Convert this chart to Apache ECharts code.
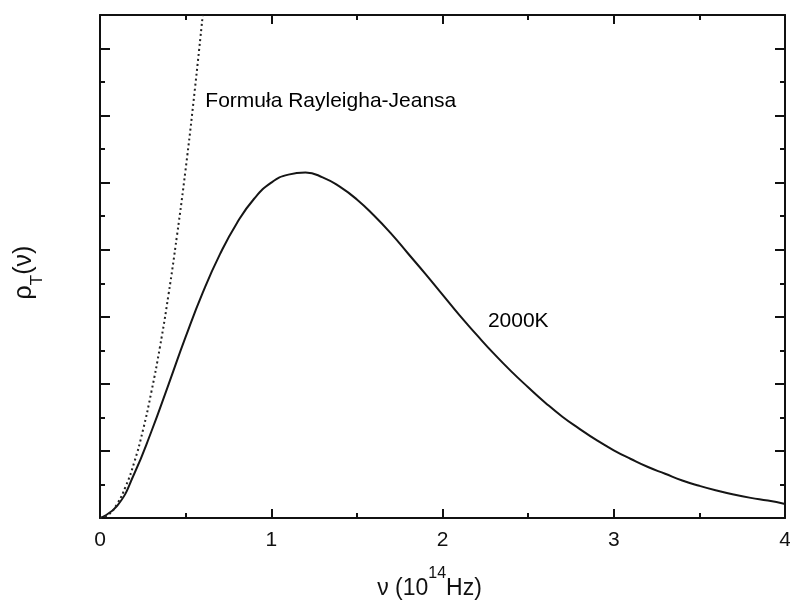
<!DOCTYPE html>
<html>
<head>
<meta charset="utf-8">
<script src="https://cdn.jsdelivr.net/npm/echarts@6/dist/echarts.min.js"></script>
<style>html,body{margin:0;padding:0;background:#fff;}#c{width:790px;height:604px;}</style>
</head>
<body>
<div id="c"></div>
<script>
// Frequency in 10^14 Hz
var planckX = [0,0.1,0.2,0.3,0.4,0.5,0.6,0.7,0.8,0.9,1.0,1.1,1.2,1.3,1.4,1.5,1.6,1.7,1.8,1.9,2.0,2.1,2.2,2.3,2.4,2.5,2.6,2.7,2.8,2.9,3.0,3.1,3.2,3.3,3.4,3.5,3.6,3.7,3.8,3.9,4.0];
var planckY = [0,0.18,0.66,1.29,1.99,2.70,3.36,3.93,4.40,4.76,5.00,5.12,5.15,5.08,4.94,4.75,4.51,4.24,3.94,3.64,3.33,3.02,2.73,2.45,2.19,1.95,1.72,1.51,1.33,1.16,1.01,0.88,0.76,0.66,0.56,0.48,0.41,0.35,0.30,0.26,0.21];
var rjX = [0,0.05,0.1,0.15,0.2,0.25,0.3,0.35,0.4,0.45,0.5,0.55,0.6];
var rjY = [0,0.05,0.21,0.47,0.83,1.30,1.88,2.55,3.33,4.22,5.20,6.30,7.50];
var xTicks = [0,1,2,3,4];
var labels = [
  {x:0.615, y:6.22, text:'Formuła Rayleigha-Jeansa'},
  {x:2.265, y:2.93, text:'2000K'}
];

function pairs(xs, ys){ return xs.map(function(x,i){return [x, ys[i]];}); }

var FONT = '"Liberation Sans", Arial, sans-serif';
var TXT = '#111';
var axisLine = {show:true, onZero:false, lineStyle:{color:'#111', width:2}};
var majTick = {show:true, inside:true, length:9, lineStyle:{color:'#111', width:2}};
var minTick = {show:true, splitNumber:2, length:5, lineStyle:{color:'#111', width:2}};

var chart = echarts.init(document.getElementById('c'));
chart.setOption({
  animation:false,
  backgroundColor:'#ffffff',
  grid:{left:100, right:5, top:15, bottom:86, containLabel:false, outerBoundsMode:'none'},
  xAxis:[{
    type:'value', position:'bottom', min:xTicks[0], max:xTicks[xTicks.length-1], interval:1,
    axisLine:axisLine, axisTick:majTick, minorTick:minTick,
    splitLine:{show:false},
    axisLabel:{show:true, margin:12, fontSize:21, color:TXT, fontFamily:FONT},
    name:'{a|ν (10}{sup|14}{a|Hz)}',
    nameLocation:'middle', nameGap:48,
    nameTextStyle:{fontFamily:FONT, color:TXT, padding:[0,26,0,0],
      rich:{
        a:{fontSize:23, fontFamily:FONT, color:TXT, lineHeight:34, verticalAlign:'bottom'},
        sup:{fontSize:16, fontFamily:FONT, color:TXT, lineHeight:16, verticalAlign:'top'}
      }}
  },{
    type:'value', position:'top', min:0, max:4, interval:1,
    axisLine:axisLine, axisTick:majTick, minorTick:minTick,
    splitLine:{show:false}, axisLabel:{show:false}
  }],
  yAxis:[{
    type:'value', position:'left', min:0, max:7.5, interval:1,
    axisLine:axisLine,
    axisTick:{show:true, inside:true, length:10, lineStyle:{color:'#111', width:2}},
    minorTick:minTick,
    splitLine:{show:false}, axisLabel:{show:false},
    name:'{a|ρ}{sub|T}{a|(ν)}',
    nameLocation:'middle', nameGap:54, nameRotate:90,
    nameTextStyle:{fontFamily:FONT, color:TXT, padding:[0,12,0,0],
      rich:{
        a:{fontSize:25, fontFamily:FONT, color:TXT, lineHeight:34, verticalAlign:'top'},
        sub:{fontSize:17, fontFamily:FONT, color:TXT, lineHeight:17, verticalAlign:'bottom'}
      }}
  },{
    type:'value', position:'right', min:0, max:7.5, interval:1,
    axisLine:axisLine,
    axisTick:{show:true, inside:true, length:10, lineStyle:{color:'#111', width:2}},
    minorTick:minTick,
    splitLine:{show:false}, axisLabel:{show:false}
  }],
  series:[{
    type:'line', name:'2000K', data:pairs(planckX, planckY), smooth:true,
    showSymbol:false, symbol:'none', clip:true,
    lineStyle:{color:'#151515', width:2}
  },{
    type:'line', name:'Rayleigh-Jeans', data:pairs(rjX, rjY), smooth:true,
    showSymbol:false, symbol:'none', clip:true,
    lineStyle:{color:'#222', width:2, type:[2,3]}
  },{
    type:'scatter', symbolSize:0, silent:true,
    data:labels.map(function(l){return {value:[l.x,l.y], name:l.text};}),
    label:{show:true, position:'right', distance:0, formatter:'{b}',
      fontSize:21, fontFamily:FONT, color:'#000', opacity:1, align:'left', verticalAlign:'middle'}
  }]
});
</script>
</body>
</html>
